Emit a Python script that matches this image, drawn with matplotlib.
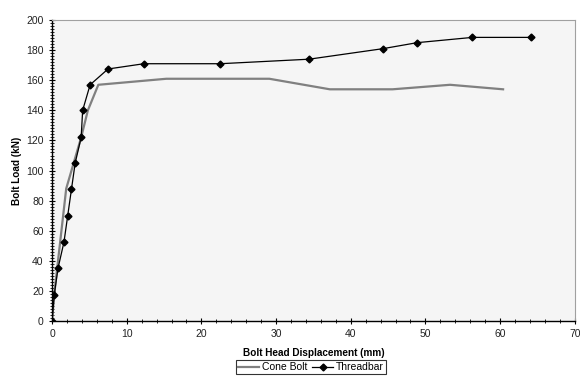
import matplotlib
matplotlib.use('Agg')
import matplotlib.pyplot as plt
from matplotlib.ticker import MultipleLocator

plt.rcParams['font.family'] = ['Liberation Sans', 'DejaVu Sans']

# Cone bolt (grey line)
cone_x = [0, 0.3, 1.1, 1.9, 3.9, 4.8, 6.2, 15.3, 29.1, 37.2, 45.6, 53.3, 60.4]
cone_y = [0, 18, 53, 88, 122, 140, 157, 161, 161, 154, 154, 157, 154]

# Threadbar (black line with diamonds)
thread_x = [0, 0.3, 0.8, 1.6, 2.1, 2.6, 3.1, 3.9, 4.1, 5.1, 7.5, 12.3, 22.5, 34.4, 44.3, 48.9, 56.3, 64.2]
thread_y = [0, 17.5, 35, 52.5, 70, 87.5, 105, 122, 140, 157, 167.5, 171, 171, 174, 181, 185, 188.5, 188.5]

fig = plt.figure(figsize=(5.8, 3.79), dpi=100)
ax = fig.add_axes([0.0897, 0.153, 0.9013, 0.794])
ax.set_facecolor('#f5f5f5')

ax.plot(cone_x, cone_y, color='#808080', linewidth=1.6, label='Cone Bolt')
ax.plot(thread_x, thread_y, color='black', linewidth=0.9, marker='D',
        markersize=3.5, label='Threadbar')

ax.set_xlim(0, 70)
ax.set_ylim(0, 200)
ax.xaxis.set_major_locator(MultipleLocator(10))
ax.xaxis.set_minor_locator(MultipleLocator(2))
ax.yaxis.set_major_locator(MultipleLocator(20))
ax.yaxis.set_minor_locator(MultipleLocator(2))
ax.tick_params(which='major', direction='inout', length=5, width=0.8,
               labelsize=7.5, labelcolor='#222222')
ax.tick_params(which='minor', direction='inout', length=3, width=0.6)

for s in ['top', 'right']:
    ax.spines[s].set_color('#a0a0a0')
for s in ['left', 'bottom']:
    ax.spines[s].set_color('black')
    ax.spines[s].set_linewidth(1.0)

ax.set_xlabel('Bolt Head Displacement (mm)', fontsize=7.2, fontweight='bold', labelpad=6)
ax.set_ylabel('Bolt Load (kN)', fontsize=7.2, fontweight='bold', labelpad=3)

leg = fig.legend(loc='center', bbox_to_anchor=(0.536, 0.031), ncol=2, fontsize=7.5,
                 frameon=True, fancybox=False, edgecolor='black', handlelength=2.0,
                 handletextpad=0.3, columnspacing=0.5, borderpad=0.2)
leg.get_frame().set_linewidth(0.8)

fig.savefig('out.png', dpi=100)
